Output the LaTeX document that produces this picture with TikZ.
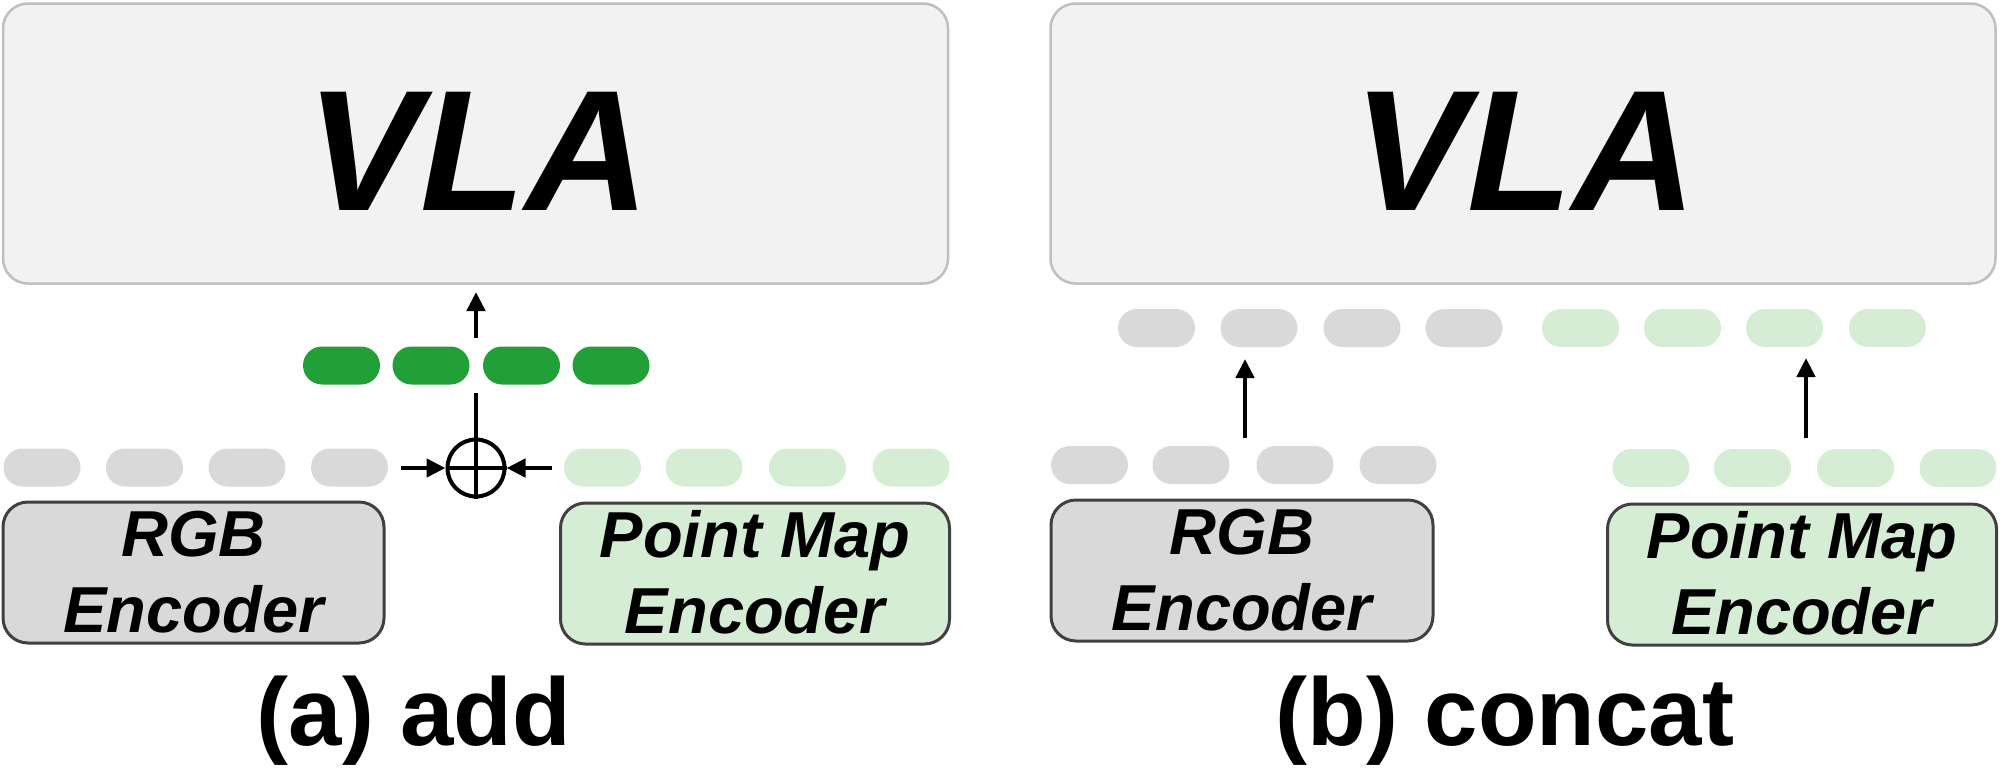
\documentclass[tikz,border=0pt]{standalone}
\usepackage{fontspec}
\setmainfont{Liberation Sans}
\usetikzlibrary{arrows.meta,shapes.misc}
\definecolor{vlafill}{HTML}{F2F2F2}
\definecolor{vladraw}{HTML}{BFBFBF}
\definecolor{tokgrayc}{HTML}{D9D9D9}
\definecolor{tokgreenc}{HTML}{D5EDD5}
\definecolor{darkgreenc}{HTML}{21A038}
\definecolor{encdraw}{HTML}{404040}
\tikzset{
  vlabox/.style={draw=vladraw, fill=vlafill, line width=2.5pt, rounded corners=25pt,
    minimum width=945pt, minimum height=280pt, inner sep=0pt},
  vlatext/.style={anchor=base, inner sep=0pt, font=\fontsize{172}{172}\selectfont\bfseries\itshape},
  tokbase/.style={rounded rectangle, minimum width=77pt, minimum height=38pt, inner sep=0pt},
  tokgray/.style={tokbase, fill=tokgrayc},
  toklight/.style={tokbase, fill=tokgreenc},
  tokdark/.style={tokbase, fill=darkgreenc},
  encbox/.style={draw=encdraw, line width=3pt, rounded corners=25pt, minimum height=141pt, inner sep=0pt},
  enctext/.style={anchor=base, inner sep=0pt, font=\fontsize{65}{65}\selectfont\bfseries\itshape},
  captext/.style={anchor=base, inner sep=0pt, font=\fontsize{96}{96}\selectfont\bfseries},
  arr/.style={-{Triangle[width=18pt,length=19pt]}, line width=4.5pt},
  plain/.style={line width=4pt},
}
\begin{document}
\begin{tikzpicture}[x=1pt, y=-1pt]
\useasboundingbox (0,0) rectangle (2000,772);
% ---------------- (a) add ----------------
\node[vlabox] (vlaA) at (475.5,143.5) {};
\node[vlatext] (vlaAt) at (478,210) {VLA};
% dark green fused tokens
\foreach \i/\x in {1/341.5,2/431,3/521.5,4/611}
  \node[tokdark] (gA\i) at (\x,365.5) {};
% lower token rows
\foreach \i/\x in {1/42,2/144.5,3/247,4/349.5}
  \node[tokgray] (rA\i) at (\x,467.5) {};
\foreach \i/\x in {1/602.5,2/704,3/807.5,4/911}
  \node[toklight] (pA\i) at (\x,467.5) {};
% sum node
\node[circle, draw, line width=4pt, minimum size=57pt, inner sep=0pt] (plus) at (476,468) {};
\draw[plain] (plus.west) -- (plus.east);
\coordinate (sumin) at (476,393);
\draw[plain] (sumin) -- (plus.south);
\coordinate (lin) at (401,468);
\coordinate (rin) at (552,468);
\draw[arr] (lin) -- (plus.west);
\draw[arr] (rin) -- (plus.east);
\coordinate (upAs) at (476,338);
\coordinate (upAe) at (476,292);
\draw[arr] (upAs) -- (upAe);
% encoders
\node[encbox, fill=tokgrayc, minimum width=381pt] (rgbA) at (193.5,572.5) {};
\node[enctext] (rgbAt1) at (193.5,556) {RGB};
\node[enctext] (rgbAt2) at (193.5,632) {Encoder};
\node[encbox, fill=tokgreenc, minimum width=389pt] (pmA) at (755,573.5) {};
\node[enctext] (pmAt1) at (755,557) {Point Map};
\node[enctext] (pmAt2) at (755,633) {Encoder};
\node[captext] (capA) at (414,745) {(a) add};
% ---------------- (b) concat ----------------
\node[vlabox] (vlaB) at (1523,143.5) {};
\node[vlatext] (vlaBt) at (1525,210) {VLA};
\foreach \i/\x in {1/1156.5,2/1259,3/1362,4/1464}
  \node[tokgray] (uR\i) at (\x,328) {};
\foreach \i/\x in {1/1580.5,2/1682.5,3/1784.5,4/1887.5}
  \node[toklight] (uP\i) at (\x,328) {};
\foreach \i/\x in {1/1089.5,2/1191,3/1295,4/1398}
  \node[tokgray] (lR\i) at (\x,465) {};
\foreach \i/\x in {1/1651,2/1752.5,3/1855.5,4/1958}
  \node[toklight] (lP\i) at (\x,468) {};
\coordinate (upBs) at (1245,438);
\coordinate (upBe) at (1245,359);
\draw[arr] (upBs) -- (upBe);
\coordinate (upCs) at (1806,438);
\coordinate (upCe) at (1806,358);
\draw[arr] (upCs) -- (upCe);
\node[encbox, fill=tokgrayc, minimum width=382pt] (rgbB) at (1242,570.5) {};
\node[enctext] (rgbBt1) at (1242,554) {RGB};
\node[enctext] (rgbBt2) at (1242,630) {Encoder};
\node[encbox, fill=tokgreenc, minimum width=389pt] (pmB) at (1802,574.5) {};
\node[enctext] (pmBt1) at (1802,558) {Point Map};
\node[enctext] (pmBt2) at (1802,634) {Encoder};
\node[captext] (capB) at (1505,745) {(b) concat};
\end{tikzpicture}
\end{document}
